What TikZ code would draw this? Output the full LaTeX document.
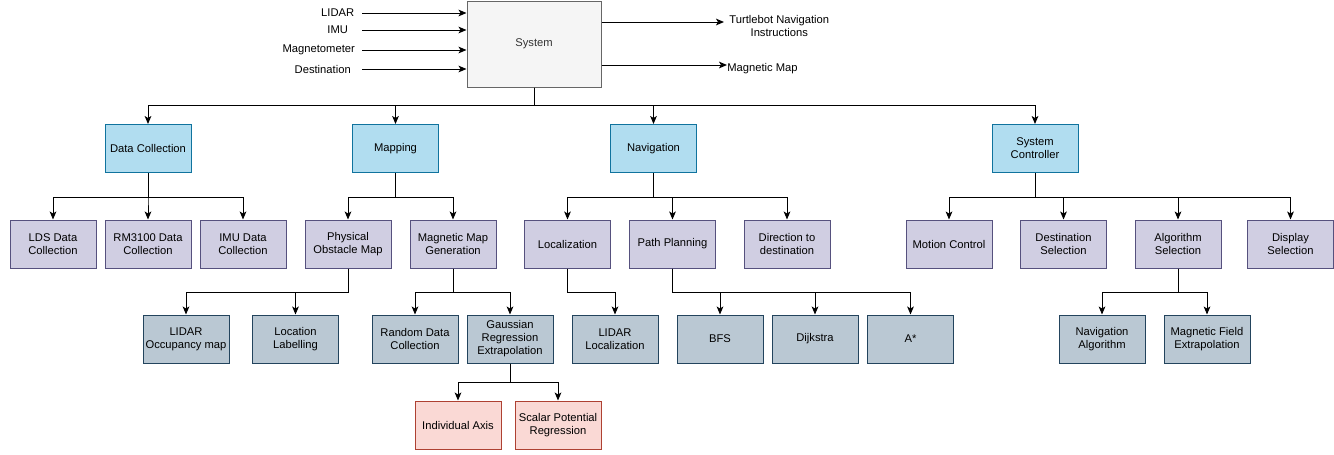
\documentclass[tikz,border=0pt]{standalone}
\usepackage{fontspec}
\setmainfont{Liberation Sans}
\usetikzlibrary{arrows.meta}
\definecolor{bF}{HTML}{B1DDF0}\definecolor{bS}{HTML}{10739E}
\definecolor{pF}{HTML}{D0CEE2}\definecolor{pS}{HTML}{56517E}
\definecolor{gF}{HTML}{BAC8D3}\definecolor{gS}{HTML}{23445D}
\definecolor{rF}{HTML}{FAD9D5}\definecolor{rS}{HTML}{AE4132}
\definecolor{sF}{HTML}{F5F5F5}\definecolor{sS}{HTML}{666666}\definecolor{sT}{HTML}{333333}
\begin{document}
\begin{tikzpicture}[x=0.75pt,y=-0.75pt,
  every node/.style={font=\fontsize{8.4}{9.75}\selectfont},
  box/.style={draw, line width=0.75pt, minimum width=64.5pt, minimum height=36pt, inner sep=1pt, align=center},
  lone/.style={box, fill=bF, draw=bS},
  ltwo/.style={box, fill=pF, draw=pS},
  lthree/.style={box, fill=gF, draw=gS},
  lfour/.style={box, fill=rF, draw=rS},
  sysbox/.style={box, fill=sF, draw=sS, text=sT, minimum width=100.5pt, minimum height=64.5pt},
  arr/.style={-{Stealth[length=6pt,width=5pt,inset=1.5pt]}, line width=0.75pt},
  lbl/.style={inner sep=0pt, align=center}]
\useasboundingbox (0,0) rectangle (1334,454);

% system
\node[sysbox] (sys) at (534,44) {System};
\node[lbl, minimum width=36pt, anchor=east] (in1) at (362,13) {LIDAR};
\node[lbl, minimum width=36pt, anchor=east] (in2) at (362,30) {IMU};
\node[lbl, minimum width=64.5pt, anchor=east] (in3) at (362,50) {Magnetometer};
\node[lbl, minimum width=58.5pt, anchor=east] (in4) at (362,69) {Destination};
\foreach \n in {in1,in2,in3,in4} \draw[arr] (\n.east) -- (\n.east -| sys.west);
\node[lbl, minimum width=82.5pt, anchor=west] (tb) at (724,25.5) {Turtlebot Navigation\\Instructions};
\node[lbl, anchor=west] (mm) at (727,68.5) {Magnetic Map};
\draw[arr] (sys.east |- 0,22) -- (tb.west |- 0,22);
\draw[arr] (sys.east |- 0,65) -- (mm.west |- 0,65);

% level 1
\node[lone] (dc) at (148,148.5) {Data Collection};
\node[lone] (map) at (395.5,148.5) {Mapping};
\node[lone] (nav) at (653.5,148.5) {Navigation};
\node[lone] (sc) at (1035,148.5) {System\\Controller};
\foreach \c in {dc,map,nav,sc} \draw[arr] (sys.south) -- ++(0,18) -| (\c.north);

% level 2
\node[ltwo] (lds) at (53,244) {LDS Data\\Collection};
\node[ltwo] (rm) at (148,244) {RM3100 Data\\Collection};
\node[ltwo] (imu) at (243,244) {IMU Data\\Collection};
\node[ltwo] (pom) at (348,244) {Physical\\Obstacle Map};
\node[ltwo] (mmg) at (453,244) {Magnetic Map\\Generation};
\node[ltwo] (loc) at (567.5,244) {Localization};
\node[ltwo] (pp) at (672.5,244) {Path Planning};
\node[ltwo] (dir) at (787,244) {Direction to\\destination};
\node[ltwo] (mc) at (949,244) {Motion Control};
\node[ltwo] (ds) at (1063.5,244) {Destination\\Selection};
\node[ltwo] (as) at (1178,244) {Algorithm\\Selection};
\node[ltwo] (disp) at (1290.5,244) {Display\\Selection};
\foreach \c in {lds,rm,imu} \draw[arr] (dc.south) -- ++(0,24) -| (\c.north);
\foreach \c in {pom,mmg} \draw[arr] (map.south) -- ++(0,24) -| (\c.north);
\foreach \c in {loc,pp,dir} \draw[arr] (nav.south) -- ++(0,24) -| (\c.north);
\foreach \c in {mc,ds,as,disp} \draw[arr] (sc.south) -- ++(0,24) -| (\c.north);

% level 3
\node[lthree] (occ) at (186,339) {LIDAR\\Occupancy map};
\node[lthree] (labl) at (295.5,339) {Location\\Labelling};
\node[lthree] (rdc) at (415,339) {Random Data\\Collection};
\node[lthree] (grx) at (510,339) {Gaussian\\Regression\\Extrapolation};
\node[lthree] (lloc) at (615,339) {LIDAR\\Localization};
\node[lthree] (bfs) at (720,339) {BFS};
\node[lthree] (dij) at (815,339) {Dijkstra};
\node[lthree] (ast) at (910.5,339) {A*};
\node[lthree] (nalg) at (1102,339) {Navigation\\Algorithm};
\node[lthree] (mfe) at (1207,339) {Magnetic Field\\Extrapolation};
\foreach \c in {occ,labl} \draw[arr] (pom.south) -- ++(0,24) -| (\c.north);
\foreach \c in {rdc,grx} \draw[arr] (mmg.south) -- ++(0,24) -| (\c.north);
\draw[arr] (loc.south) -- ++(0,24) -| (lloc.north);
\foreach \c in {bfs,dij,ast} \draw[arr] (pp.south) -- ++(0,24) -| (\c.north);
\foreach \c in {nalg,mfe} \draw[arr] (as.south) -- ++(0,24) -| (\c.north);

% level 4
\node[lfour] (ia) at (458,425) {Individual Axis};
\node[lfour] (spr) at (558,425) {Scalar Potential\\Regression};
\foreach \c in {ia,spr} \draw[arr] (grx.south) -- ++(0,19) -| (\c.north);
\end{tikzpicture}
\end{document}
